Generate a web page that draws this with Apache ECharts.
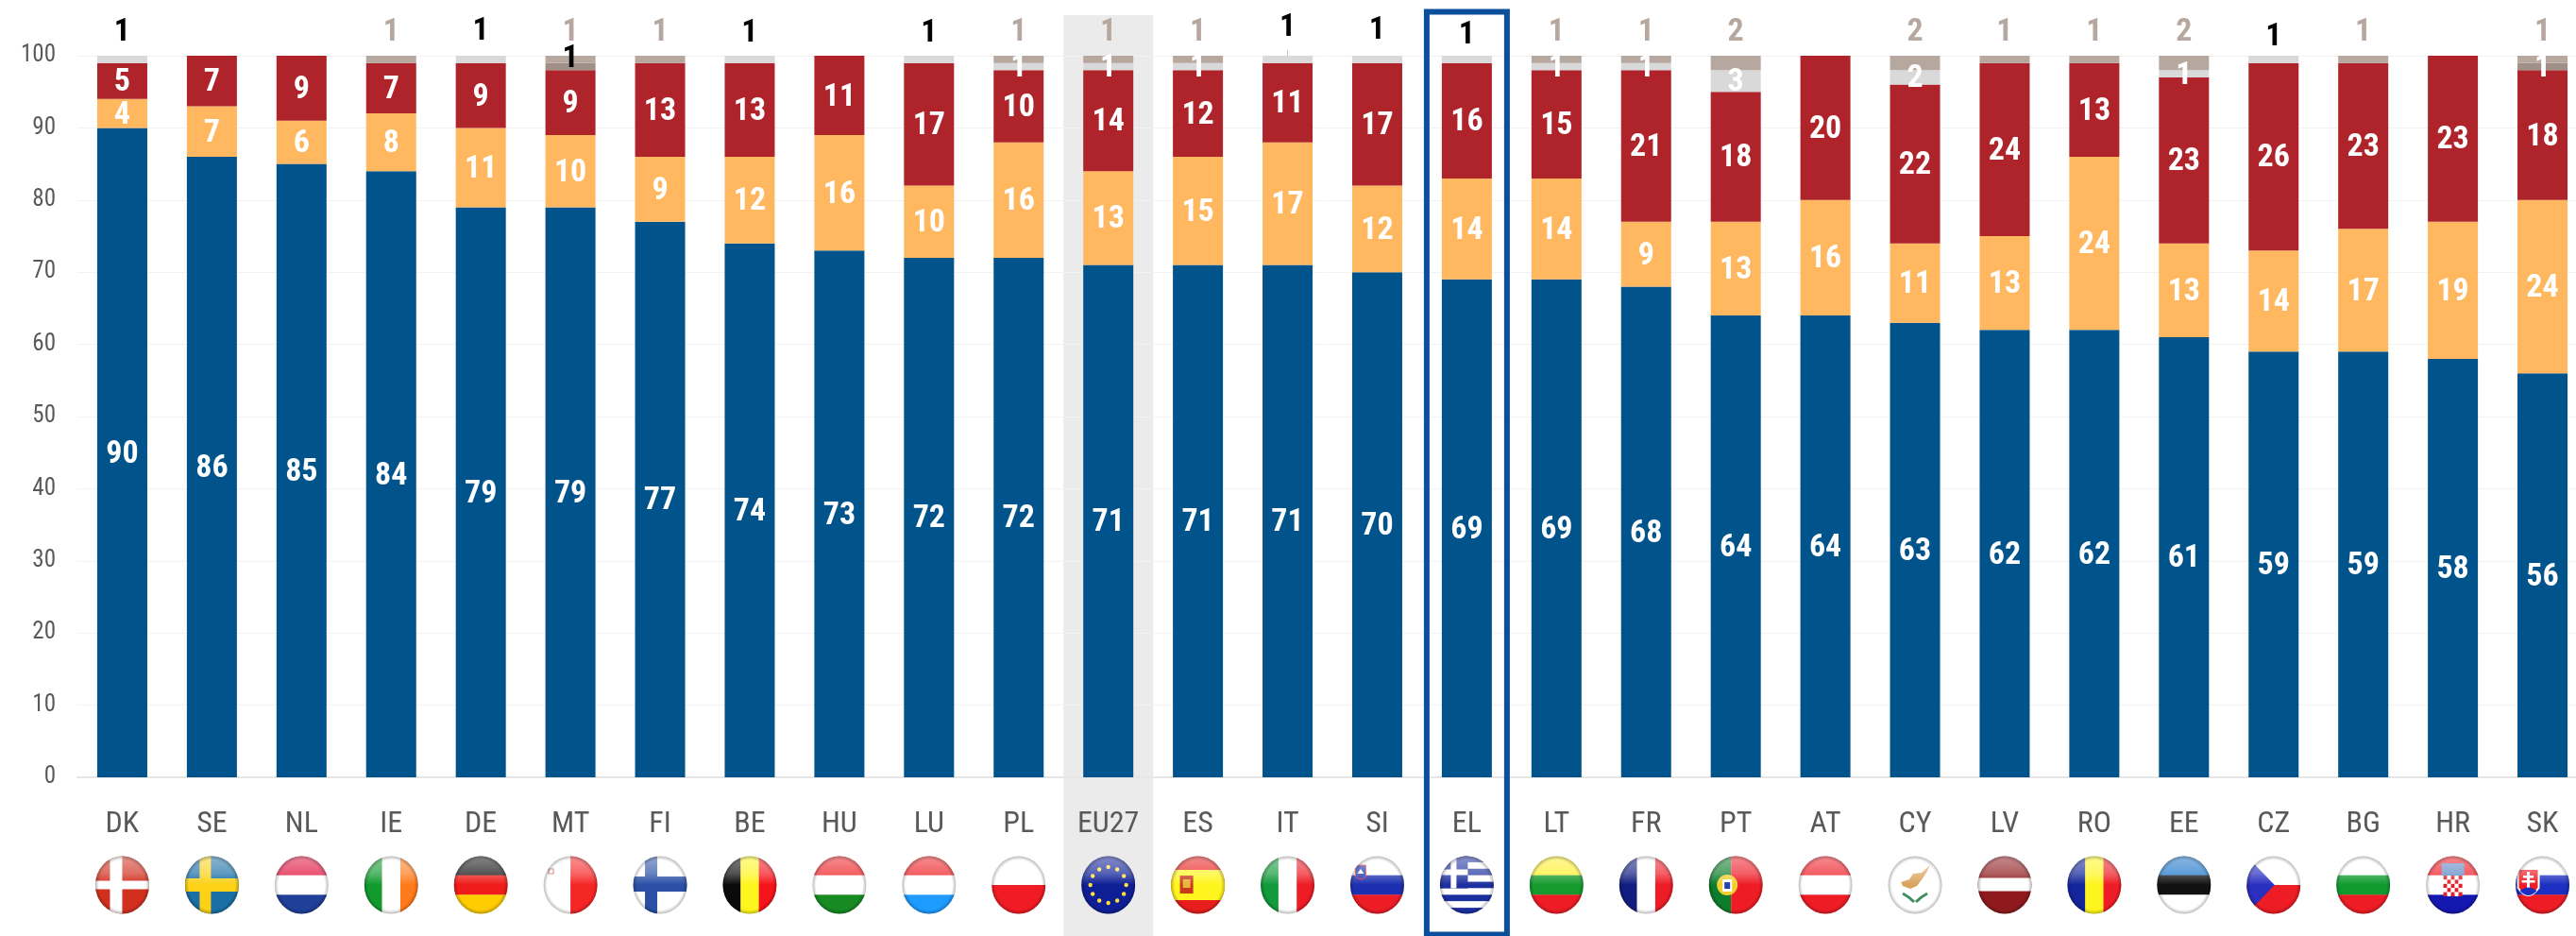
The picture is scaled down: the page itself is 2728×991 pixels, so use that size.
<!DOCTYPE html>
<html><head><meta charset="utf-8"><style>html,body{margin:0;padding:0;background:#fff;overflow:hidden}#c{width:2728px;height:991px}</style>
<script src="https://cdn.jsdelivr.net/npm/echarts@6/dist/echarts.min.js"></script></head><body><div id="c"></div>
<script>
const categories=['DK','SE','NL','IE','DE','MT','FI','BE','HU','LU','PL','EU27','ES','IT','SI','EL','LT','FR','PT','AT','CY','LV','RO','EE','CZ','BG','HR','SK'];
const blueValues  =[90,86,85,84,79,79,77,74,73,72,72,71,71,71,70,69,69,68,64,64,63,62,62,61,59,59,58,56];
const orangeValues=[4,7,6,8,11,10,9,12,16,10,16,13,15,17,12,14,14,9,13,16,11,13,24,13,14,17,19,24];
const redValues   =[5,7,9,7,9,9,13,13,11,17,10,14,12,11,17,16,15,21,18,20,22,24,13,23,26,23,23,18];
const greyValues  =[1,0,0,0,1,1,0,1,0,1,1,1,1,1,1,1,1,1,3,0,2,0,0,1,1,0,0,1];
const taupeValues =[0,0,0,1,0,1,1,0,0,0,1,1,1,0,0,0,1,1,2,0,2,1,1,2,0,1,0,1];
const yTicks=[0,10,20,30,40,50,60,70,80,90,100];

// label placement of the black "1"s (pixel shift from their segment's centre)
const blackShift={DK:-28,DE:-29,MT:-8,BE:-27,LU:-27,IT:-33,SI:-30,EL:-25,CZ:-23};
const darkGrey=['MT','SK'];
const FONT='"Roboto Condensed","Liberation Sans Narrow","Liberation Sans",sans-serif';
const C={blue:'#01538B',orange:'#FFB85F',red:'#AE242A',grey:'#D9D9D9',dark:'#A09087',taupe:'#B7A89F',box:'#0B4F9C'};

// ---------- flag artwork ----------
const R=(x,y,w,h,f)=>`<rect x="${x}" y="${y}" width="${w}" height="${h}" fill="${f}"/>`;
const H=(...c)=>c.map((f,i)=>R(0,62*i/c.length,58,62/c.length+.3,f)).join('');
const V=(...c)=>c.map((f,i)=>R(58*i/c.length,0,58/c.length+.3,62,f)).join('');
const cross=(bg,fg,x,w,y,h)=>R(0,0,58,62,bg)+R(x,0,w,62,fg)+R(0,y,58,h,fg);
const ring=(n,cx,cy,r,f,s)=>Array.from({length:n},(_,i)=>{const a=i/n*6.283;return `<circle cx="${(cx+r*Math.sin(a)).toFixed(1)}" cy="${(cy-r*Math.cos(a)).toFixed(1)}" r="${s}" fill="${f}"/>`}).join('');
const greek=()=>{let s='';for(let i=0;i<9;i++)s+=R(0,62*i/9,58,62/9+.2,i%2?'#fff':'#1c2f9e');return s+R(0,0,30,34.5,'#1c2f9e')+R(12,0,6,34.5,'#fff')+R(0,14.5,30,6,'#fff')};
const checker=()=>{let s='';for(let r=0;r<5;r++)for(let c=0;c<5;c++)s+=R(19+c*4,21+r*4.4,4,4.4,(r+c)%2?'#fff':'#e01f26');return s};
const FLAGS={
DK:cross('#D2301F','#fff',16,13,26.5,9),SE:cross('#1A6FA5','#FCD116',16,12,24,14),
NL:H('#E0103C','#fff','#1F3F98'),IE:V('#129A2D','#fff','#FF7A1A'),DE:H('#111','#F01B1B','#FFCC00'),
MT:V('#fff','#F52626')+`<path d="M6 14h5v5h-5z" fill="none" stroke="#c66" stroke-width="1.2"/>`,
FI:cross('#fff','#2A4FA5',13,13,22,16),BE:V('#0a0a0a','#FFF51E','#F5141B'),HU:H('#EE2024','#fff','#178A22'),
LU:H('#EE2024','#fff','#1E9BFF'),PL:H('#fff','#F01B24'),
EU:R(0,0,58,62,'#0E1F96')+ring(12,29,31,19,'#FFE23A',2.2),
ES:R(0,0,58,62,'#E81E1E')+R(0,15,58,32,'#FFF51E')+R(10,21,14,19,'#C8391E')+R(13,25,8,9,'#E9B23A'),
IT:V('#129A3B','#fff','#EE1C25'),SI:H('#fff','#1C2FB0','#EE1C25')+`<path d="M6 10h11v12q-5 6-11 0z" fill="#1C2FB0" stroke="#e33"/><path d="M8 19l3.5-5 3.5 5z" fill="#fff"/>`,
EL:greek(),LT:H('#FFF02E','#169A2D','#EE1C25'),FR:V('#111E80','#fff','#EE1C25'),
PT:R(0,0,24,62,'#0D7C2B')+R(24,0,34,62,'#EE1C25')+`<circle cx="20" cy="31" r="11" fill="#F0D030"/>`+R(15,25,10,13,'#fff')+R(17,28,6,7,'#2340B0'),
AT:H('#EE1C25','#fff','#EE1C25'),
CY:R(0,0,58,62,'#fff')+`<path d="M14 28l9-3 4-6 9-1 9-8-4 8-4 6-6 8-7 3-8-3z" fill="#D9A35B"/><path d="M16 40q6 3 12 9M42 40q-6 3-12 9" stroke="#3E8F5E" stroke-width="3" fill="none"/>`,
LV:R(0,0,58,62,'#8E1A1E')+R(0,23.5,58,14,'#fff'),RO:V('#12259A','#FFF51E','#EE1C25'),EE:H('#1B74C9','#111','#fff'),
CZ:H('#fff','#EE1C25')+`<path d="M0 0L30 31 0 62z" fill="#2A2FC0"/>`,BG:H('#fff','#0F9A2E','#EE1C25'),
HR:H('#EE1C25','#fff','#1518B0')+R(17,8,24,13,'#5E86C4')+checker(),
SK:H('#fff','#1C2FC0','#EE1C25')+`<path d="M3 14h22v20q-11 16-22 0z" fill="#EE1C25" stroke="#fff" stroke-width="2"/>`+R(12.5,17,3,17,'#fff')+R(8.5,21,11,2.5,'#fff')+R(7,26,14,2.5,'#fff')+`<path d="M5 37q9-7 18 0q-9 10-18 0z" fill="#1C2FC0"/>`
};
FLAGS.EU27=FLAGS.EU;
function flagUri(code){
 const s=`<svg xmlns="http://www.w3.org/2000/svg" width="116" height="124" viewBox="0 0 58 62"><defs>
<clipPath id="k"><ellipse cx="29" cy="31" rx="28.5" ry="30.5"/></clipPath>
<linearGradient id="g" x1="0" y1="0" x2="0" y2="1"><stop offset="0" stop-color="#fff" stop-opacity=".5"/><stop offset=".3" stop-color="#fff" stop-opacity=".3"/><stop offset=".5" stop-color="#fff" stop-opacity="0"/></linearGradient>
<radialGradient id="r" cx=".5" cy=".5" r=".5"><stop offset=".85" stop-color="#000" stop-opacity="0"/><stop offset="1" stop-color="#000" stop-opacity=".3"/></radialGradient></defs>
<g clip-path="url(#k)">${FLAGS[code]}<rect width="58" height="62" fill="url(#g)"/><rect width="58" height="62" fill="url(#r)"/></g></svg>`;
 return 'data:image/svg+xml;charset=utf-8,'+encodeURIComponent(s);
}
const flagImages=categories.map(flagUri);

// ---------- series ----------
const segLabel={show:true,position:'inside',offset:[0,2],color:'#fff',fontFamily:FONT,fontSize:34,fontWeight:'bold',formatter:p=>p.value||''};
const plain=(name,vals,color)=>({name,type:'bar',stack:'s',barWidth:53,data:vals,itemStyle:{color},label:segLabel,z:2});
const greyData=greyValues.map((v,i)=>{
 const c=categories[i],o={value:v||null};
 if(darkGrey.includes(c))o.itemStyle={color:C.dark};
 if(c in blackShift)o.label={color:'#000',offset:[0,blackShift[c]]};
 return o;});
const taupeData=taupeValues.map(v=>({value:v||null}));

const overlay=(render,data,z)=>({type:'custom',silent:true,clip:false,z,data,encode:{x:0,y:1},renderItem:render});
const option={
 animation:false,backgroundColor:'#fff',
 grid:{left:82,width:2658,top:59,height:764,outerBoundsMode:'none',containLabel:false},
 xAxis:{type:'category',data:categories,axisTick:{show:false},axisLine:{lineStyle:{color:'#E6E6E6',width:2}},
  axisLabel:{color:'#595959',fontFamily:FONT,fontSize:32,margin:34,interval:0}},
 yAxis:{type:'value',min:0,max:100,interval:10,axisLine:{show:false},axisTick:{show:false},
  splitLine:{lineStyle:{color:'#F2F2F2',width:1}},
  axisLabel:{color:'#595959',fontFamily:FONT,fontSize:25,margin:23,formatter:v=>yTicks.includes(v)?String(v):''}},
 series:[
  overlay((p,api)=>{const x=api.coord([api.value(0),0])[0],w=api.size([1,0])[0];
    return {type:'rect',shape:{x:x-w/2,y:16,width:w,height:975},style:{fill:'#EBEBEB'}}},[[categories.indexOf('EU27'),0]],-1),
  plain('Blue',blueValues,C.blue),plain('Orange',orangeValues,C.orange),plain('Red',redValues,C.red),
  {name:'Grey',type:'bar',stack:'s',barWidth:53,data:greyData,itemStyle:{color:C.grey},label:segLabel,z:2},
  {name:'Taupe',type:'bar',stack:'s',barWidth:53,data:taupeData,itemStyle:{color:C.taupe},
   label:{show:true,position:'top',distance:8,color:C.taupe,fontFamily:FONT,fontSize:34,fontWeight:'bold',formatter:p=>p.value||''},z:2},
  overlay((p,api)=>{const pt=api.coord([api.value(0),0]);
    return {type:'image',style:{image:flagImages[p.dataIndex],x:pt[0]-29,y:pt[1]+83,width:58,height:62}}},categories.map((c,i)=>[i,0]),3),
  overlay((p,api)=>{const x=api.coord([api.value(0),0])[0];
    return {type:'rect',shape:{x:x-42.5,y:12.5,width:85,height:977},style:{fill:'none',stroke:C.box,lineWidth:6}}},[[categories.indexOf('EL'),0]],4),
  overlay((p,api)=>{const pt=api.coord([api.value(0),api.value(1)]);
    return {type:'line',shape:{x1:pt[0],y1:pt[1]-6,x2:pt[0],y2:pt[1]},style:{stroke:'#BFBFBF',lineWidth:1}}},[[categories.indexOf('IT'),100]],4)
 ]};
echarts.init(document.getElementById('c')).setOption(option);
</script></body></html>
